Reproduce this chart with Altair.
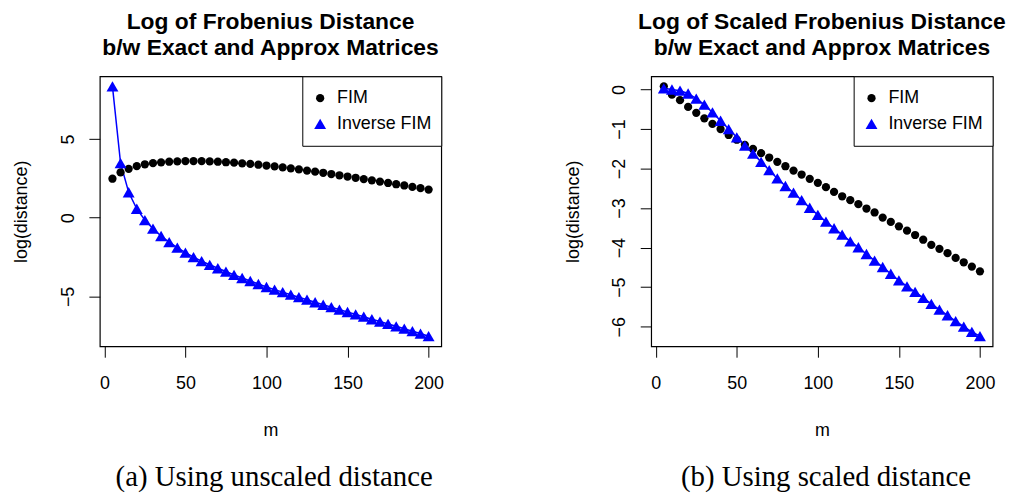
import altair as alt
import pandas as pd

m_values = [5, 10, 15, 20, 25, 30, 35, 40, 45, 50,
            55, 60, 65, 70, 75, 80, 85, 90, 95, 100,
            105, 110, 115, 120, 125, 130, 135, 140, 145, 150,
            155, 160, 165, 170, 175, 180, 185, 190, 195, 200]
series_names = ["FIM", "Inverse FIM"]

left_fim = [2.48, 2.88, 3.11, 3.28, 3.40, 3.47, 3.52, 3.56, 3.58, 3.60,
            3.60, 3.60, 3.58, 3.56, 3.53, 3.50, 3.46, 3.42, 3.37, 3.32,
            3.26, 3.20, 3.14, 3.07, 3.00, 2.93, 2.86, 2.78, 2.70, 2.62,
            2.54, 2.46, 2.38, 2.30, 2.21, 2.13, 2.05, 1.96, 1.88, 1.79]
left_inv = [8.35, 3.47, 1.62, 0.57, -0.15, -0.69, -1.16, -1.55, -1.90, -2.22,
            -2.50, -2.76, -2.99, -3.21, -3.42, -3.63, -3.83, -4.02, -4.21, -4.40,
            -4.57, -4.73, -4.89, -5.05, -5.21, -5.37, -5.53, -5.68, -5.84, -5.99,
            -6.14, -6.29, -6.45, -6.60, -6.75, -6.90, -7.05, -7.21, -7.36, -7.53]
right_fim = [0.08, -0.13, -0.27, -0.44, -0.59, -0.73, -0.87, -1.00, -1.15, -1.27,
             -1.40, -1.50, -1.61, -1.72, -1.83, -1.94, -2.05, -2.15, -2.26, -2.36,
             -2.47, -2.59, -2.70, -2.80, -2.90, -3.01, -3.11, -3.24, -3.35, -3.46,
             -3.57, -3.68, -3.80, -3.93, -4.03, -4.14, -4.26, -4.37, -4.48, -4.60]
right_inv = [0.03, 0.00, -0.03, -0.10, -0.23, -0.38, -0.58, -0.79, -1.00, -1.21,
             -1.42, -1.62, -1.83, -2.04, -2.25, -2.44, -2.61, -2.80, -2.99, -3.17,
             -3.34, -3.51, -3.67, -3.84, -3.99, -4.16, -4.33, -4.49, -4.66, -4.83,
             -4.98, -5.12, -5.27, -5.42, -5.57, -5.71, -5.86, -6.00, -6.13, -6.24]

x_ticks = [0, 50, 100, 150, 200]
left_y_ticks = [-5, 0, 5]
right_y_ticks = [-6, -5, -4, -3, -2, -1, 0]

title_a = ["Log of Frobenius Distance", "b/w Exact and Approx Matrices"]
title_b = ["Log of Scaled Frobenius Distance", "b/w Exact and Approx Matrices"]
caption_a = "(a) Using unscaled distance"
caption_b = "(b) Using scaled distance"

SANS = "Liberation Sans"
SERIF = "Liberation Serif"


def make_df(fim, inv):
    rows = []
    for name, vals in zip(series_names, [fim, inv]):
        for m, v in zip(m_values, vals):
            rows.append({"m": m, "value": v, "series": name})
    return pd.DataFrame(rows)


def panel(fim, inv, ydomain, yticks, title, caption, cap_dx):
    df = make_df(fim, inv)
    x = alt.X("m:Q",
              scale=alt.Scale(domain=[-2.8, 207.8], nice=False, zero=False),
              axis=alt.Axis(values=x_ticks, title="m", labelPadding=18,
                            titlePadding=29, labelFlush=False))
    y = alt.Y("value:Q",
              scale=alt.Scale(domain=ydomain, nice=False, zero=False),
              axis=alt.Axis(values=yticks, title="log(distance)",
                            labelAngle=270, labelAlign="center",
                            labelBaseline="bottom", labelPadding=12,
                            titlePadding=28.5, labelOverlap=False,
                            labelFlush=False))
    line = alt.Chart(df).transform_filter(
        alt.datum.series == "Inverse FIM"
    ).mark_line(color="blue", strokeWidth=1.5).encode(x=x, y=y)
    pts = alt.Chart(df).mark_point(filled=True, opacity=1).encode(
        x=x, y=y,
        color=alt.Color("series:N",
                        scale=alt.Scale(domain=series_names, range=["black", "blue"]),
                        legend=alt.Legend(orient="top-right", offset=0, title=None,
                                          strokeColor="black", fillColor="white",
                                          padding=9, labelOffset=8,
                                          labelFontSize=18, labelFont=SANS,
                                          labelColor="black", clipHeight=26,
                                          rowPadding=0, symbolStrokeWidth=0)),
        shape=alt.Shape("series:N",
                        scale=alt.Scale(domain=series_names,
                                        range=["circle", "triangle-up"])),
        size=alt.Size("series:N",
                      scale=alt.Scale(domain=series_names, range=[69, 144])),
    )
    layer = alt.layer(line, pts).properties(
        width=344, height=272,
        title=alt.TitleParams(text=title, font=SANS, fontSize=23,
                              fontWeight="bold", lineHeight=26, offset=16,
                              anchor="middle", color="black"),
    )
    return alt.vconcat(layer).resolve_scale(
        color="independent", shape="independent", size="independent"
    ).properties(
        title=alt.TitleParams(text=caption, orient="bottom", anchor="middle",
                              frame="bounds", font=SERIF, fontSize=29,
                              fontWeight="normal", offset=23, dx=cap_dx,
                              color="black")
    )


pa = panel(left_fim, left_inv, [-8.17, 8.99], left_y_ticks, title_a, caption_a, 46.25)
pb = panel(right_fim, right_inv, [-6.495, 0.334], right_y_ticks, title_b, caption_b, 41.25)

chart = alt.hconcat(pa, pb, spacing=119.5).resolve_scale(
    color="independent", shape="independent", size="independent"
).properties(
    padding={"left": 3.5, "top": 0, "right": 0, "bottom": 0}
).configure_view(
    stroke="black", strokeWidth=1.2
).configure_axis(
    labelFont=SANS, labelFontSize=18, labelColor="black",
    titleFont=SANS, titleFontSize=18, titleFontWeight="normal", titleColor="black",
    grid=False, domain=False, tickColor="black", tickWidth=1, tickSize=11,
)

chart.save("out.html", embed_options={"renderer": "svg", "actions": False})
